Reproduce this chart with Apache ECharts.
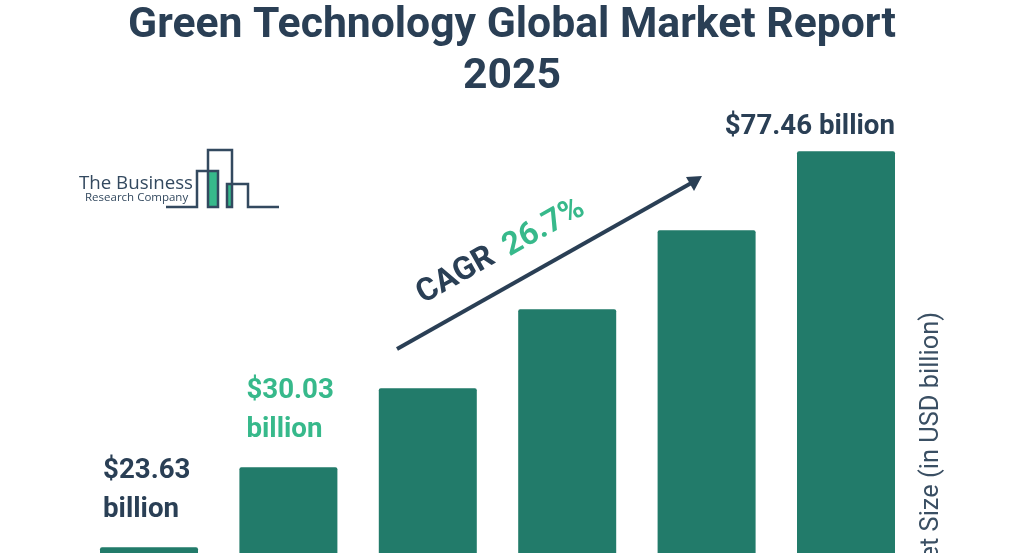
<!DOCTYPE html>
<html>
<head>
<meta charset="utf-8">
<style>
  html, body { margin: 0; padding: 0; background: #fff; overflow: hidden; }
  #chart { width: 1024px; height: 553px; }
</style>
<script src="https://cdn.jsdelivr.net/npm/echarts@6/dist/echarts.min.js"></script>
</head>
<body>
<div id="chart"></div>
<script>
const chart = echarts.init(document.getElementById("chart"));

const years = ["2024", "2025", "2026", "2027", "2028", "2029"];
// middle values are not printed on the picture
const marketSize = [23.63, 30.03, 38.05, 48.21, 61.11, 77.46];
const barLabels = ["$23.63\nbillion", "$30.03\nbillion", "", "", "", "$77.46 billion"];

const DARK = "#2a3f55";
const GREEN = "#37b98b";
const BAR = "#227b6a";
const FONT = "Roboto";

const labelStyles = [
    { color: DARK, offset: [-46, -13], align: "left" },
    { color: GREEN, offset: [-42, -13], align: "left" },
    {}, {}, {},
    { color: DARK, offset: [49, 0], align: "right" }
];

const barData = marketSize.map((v, i) => ({
    value: v,
    label: { show: barLabels[i] !== "", formatter: barLabels[i], ...labelStyles[i] }
}));

const logoLine = { stroke: "#33495f", lineWidth: 2.5, fill: null };
const tilt = Math.atan2(172, 305);

const option = {
    animation: false,
    backgroundColor: "#fff",
    title: {
        text: "Green Technology Global Market Report\n2025",
        left: 507,
        top: -4,
        textAlign: "center",
        textStyle: {
            fontFamily: FONT,
            fontSize: 42.7,
            fontWeight: 700,
            color: DARK,
            lineHeight: 51
        }
    },
    grid: { left: 79.3, width: 836.4, top: 66, height: 768, outerBoundsMode: "none" },
    xAxis: {
        type: "category",
        data: years,
        axisLine: { show: false },
        axisTick: { show: false },
        axisLabel: { show: false }
    },
    yAxis: {
        type: "log",
        min: 10,
        max: 100,
        show: false,
        splitLine: { show: false }
    },
    series: [{
        type: "bar",
        data: barData,
        barWidth: 98,
        itemStyle: { color: BAR, borderRadius: 2 },
        label: {
            position: "top",
            fontFamily: FONT,
            fontSize: 27.7,
            fontWeight: 700,
            lineHeight: 39
        }
    }],
    graphic: [
        // trend arrow
        { type: "line", shape: { x1: 397, y1: 349, x2: 694, y2: 181.5 }, style: { stroke: DARK, lineWidth: 4 } },
        { type: "polygon", shape: { points: [[702, 176], [686, 177], [694, 191]] }, style: { fill: DARK } },
        {
            type: "text", x: 456, y: 276, rotation: tilt,
            style: { text: "CAGR", font: "700 32px Roboto", fill: DARK, align: "center", verticalAlign: "middle" }
        },
        {
            type: "text", x: 544, y: 228, rotation: tilt,
            style: { text: "26.7%", font: "700 32px Roboto", fill: GREEN, align: "center", verticalAlign: "middle" }
        },
        // axis title, runs off the bottom of the window
        {
            type: "text", x: 932, y: 312, rotation: Math.PI / 2,
            style: { text: "Market Size (in USD billion)", font: "400 25.4px Roboto", fill: "#3a4f63", align: "right", verticalAlign: "middle" }
        },
        // logo
        { type: "rect", shape: { x: 209, y: 171, width: 9, height: 36 }, style: { fill: GREEN } },
        { type: "rect", shape: { x: 228, y: 184, width: 4, height: 23 }, style: { fill: GREEN } },
        {
            type: "polyline",
            shape: { points: [[166, 207], [197, 207], [197, 171], [218, 171], [218, 207], [208, 207], [208, 150], [232, 150], [232, 207], [227, 207], [227, 184], [248, 184], [248, 207], [279, 207]] },
            style: logoLine
        },
        {
            type: "text", x: 79, y: 184,
            style: { text: "The Business", font: "400 18.7px 'Open Sans'", fill: "#33495f", align: "left", verticalAlign: "middle" }
        },
        {
            type: "text", x: 85, y: 198,
            style: { text: "Research Company", font: "400 11.5px 'Open Sans'", fill: "#33495f", align: "left", verticalAlign: "middle" }
        }
    ]
};

chart.setOption(option);
</script>
</body>
</html>
